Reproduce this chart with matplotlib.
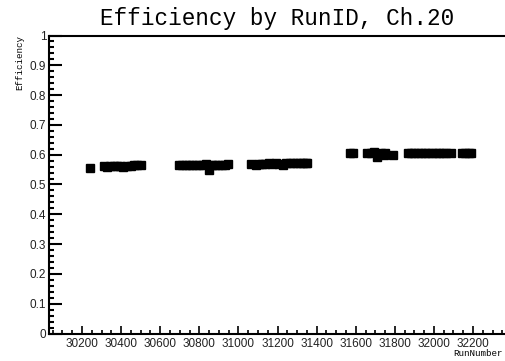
import matplotlib
matplotlib.use("Agg")
import matplotlib.pyplot as plt
from matplotlib.ticker import MultipleLocator

# run numbers and efficiencies
run_a = [30241, 30310, 30328, 30345, 30362, 30378, 30395, 30410, 30430, 30448, 30465, 30483, 30504]
eff_a = [0.555, 0.562, 0.558, 0.563, 0.563, 0.562, 0.563, 0.558, 0.563, 0.563, 0.564, 0.564, 0.564]

run_b = [30694, 30712, 30730, 30748, 30765, 30782, 30800, 30818, 30835, 30850, 30866, 30882, 30898, 30915, 30932, 30949]
eff_b = [0.564, 0.564, 0.564, 0.564, 0.564, 0.565, 0.565, 0.565, 0.568, 0.549, 0.565, 0.566, 0.566, 0.566, 0.567, 0.569]

run_c = [31062, 31090, 31105, 31120, 31138, 31155, 31172, 31190, 31208, 31228, 31245, 31262, 31280, 31297, 31314, 31330, 31345, 31353]
eff_c = [0.568, 0.567, 0.569, 0.570, 0.570, 0.571, 0.570, 0.571, 0.570, 0.564, 0.571, 0.571, 0.571, 0.572, 0.572, 0.572, 0.572, 0.572]

run_d = [31572, 31586, 31660, 31678, 31695, 31709, 31730, 31742, 31752, 31790, 31865, 31882, 31900, 31918,
         31936, 31954, 31972, 31990, 32008, 32026, 32044, 32062, 32085, 32141, 32160, 32178, 32192]
eff_d = [0.606, 0.607, 0.607, 0.607, 0.608, 0.592, 0.607, 0.600, 0.607, 0.600, 0.607, 0.607, 0.607, 0.607,
         0.607, 0.607, 0.607, 0.607, 0.607, 0.607, 0.607, 0.607, 0.607, 0.607, 0.607, 0.607, 0.607]

runs = run_a + run_b + run_c + run_d
effs = eff_a + eff_b + eff_c + eff_d

W, H = 506, 361
fig = plt.figure(figsize=(W / 100, H / 100), dpi=100)
# frame runs past the right edge of the picture, like the source image
x0, x1 = 30031, 32390
ax = fig.add_axes([49 / W, (H - 333.5) / H, (x1 - x0) * 0.1955 / W, 298 / H])

ax.plot(runs, effs, linestyle="none", marker="s", markersize=6.3, color="black")

ax.set_xlim(x0, x1)
ax.set_ylim(0, 1)

ax.xaxis.set_major_locator(MultipleLocator(200))
ax.xaxis.set_minor_locator(MultipleLocator(50))
ax.yaxis.set_major_locator(MultipleLocator(0.1))
ax.yaxis.set_minor_locator(MultipleLocator(0.02))
ax.yaxis.set_major_formatter(plt.FuncFormatter(lambda v, p: "%g" % round(v, 1)))

for s in ax.spines.values():
    s.set_linewidth(1.5)

ax.tick_params(axis="y", which="major", direction="in", length=9.4, width=1.5, pad=2,
               labelsize=8.5, labelcolor="#222222", right=False)
ax.tick_params(axis="y", which="minor", direction="in", length=3.6, width=1.5, right=False)
ax.tick_params(axis="x", which="major", direction="in", length=5.8, width=1.2, pad=3,
               labelsize=8.5, labelcolor="#222222", top=False)
ax.tick_params(axis="x", which="minor", direction="in", length=2.9, width=1.2, top=False)
for lab in ax.get_xticklabels() + ax.get_yticklabels():
    lab.set_family("Liberation Sans")

fig.text(277 / W, 1 - 25 / H, "Efficiency by RunID, Ch.20", family="Liberation Mono",
         fontsize=16.3, ha="center", va="baseline")
fig.text(20 / W, 1 - 35 / H, "Efficiency", family="Liberation Mono", fontsize=6.6,
         rotation=90, ha="center", va="top")
fig.text(453 / W, 1 - 353 / H, "RunNumber", family="Liberation Mono", fontsize=6.6,
         ha="left", va="center")

fig.savefig("out.png", dpi=100)
